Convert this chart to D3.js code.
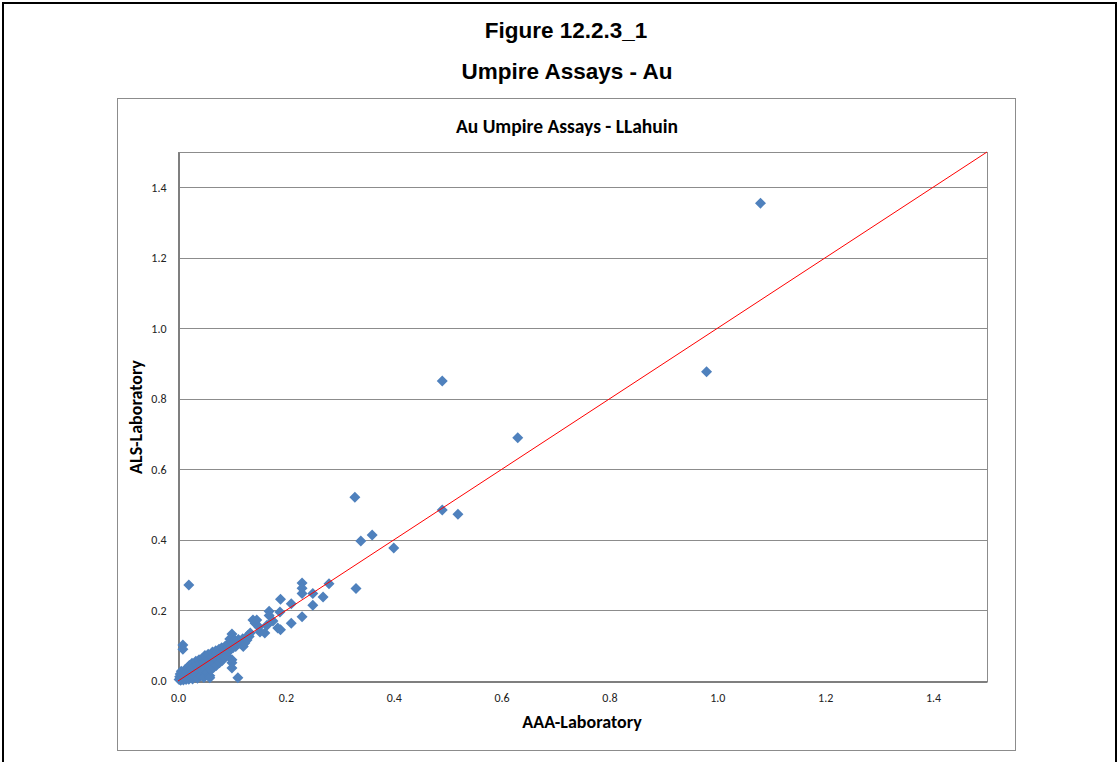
<!DOCTYPE html>
<html>
<head>
<meta charset="utf-8">
<script src="https://cdn.jsdelivr.net/npm/d3@7"></script>
<style>
  html, body { margin: 0; padding: 0; background: #fff; }
  svg { display: block; }
</style>
</head>
<body>
<script>
// Umpire assay pairs, Au (g/t): [AAA-Laboratory, ALS-Laboratory]
const lowGrade = [
  [0.002,0.004],[0.003,0.012],[0.004,0.020],[0.005,0.002],[0.006,0.028],[0.007,0.008],
  [0.008,0.016],[0.009,0.102],[0.009,0.090],[0.010,0.003],[0.010,0.024],[0.012,0.010],
  [0.013,0.032],[0.014,0.018],[0.015,0.004],[0.016,0.026],[0.018,0.038],[0.018,0.010],
  [0.020,0.020],[0.020,0.005],[0.021,0.044],[0.022,0.030],[0.024,0.014],[0.025,0.036],
  [0.026,0.050],[0.027,0.006],[0.028,0.024],[0.030,0.042],[0.030,0.012],[0.032,0.032],
  [0.033,0.056],[0.034,0.020],[0.035,0.046],[0.036,0.008],[0.038,0.036],[0.039,0.060],
  [0.040,0.026],[0.041,0.050],[0.042,0.014],[0.044,0.040],[0.045,0.064],[0.046,0.030],
  [0.047,0.054],[0.048,0.010],[0.050,0.044],[0.050,0.072],[0.051,0.034],[0.052,0.058],
  [0.054,0.024],[0.055,0.048],[0.056,0.076],[0.057,0.040],[0.058,0.062],[0.059,0.015],
  [0.059,0.009],[0.060,0.052],[0.061,0.032],[0.062,0.070],[0.063,0.044],[0.064,0.082],
  [0.065,0.058],[0.066,0.038],[0.067,0.074],[0.068,0.050],[0.070,0.064],[0.070,0.086],
  [0.071,0.044],[0.072,0.078],[0.074,0.058],[0.075,0.070],[0.076,0.090],[0.077,0.052],
  [0.078,0.082],[0.080,0.066],[0.081,0.094],[0.082,0.058],[0.083,0.076],[0.085,0.088],
  [0.086,0.068],[0.087,0.098],[0.088,0.080],[0.090,0.072],[0.090,0.092],[0.092,0.104],
  [0.093,0.096],[0.094,0.084],[0.095,0.108],[0.096,0.119],[0.097,0.090],[0.098,0.100],
  [0.100,0.133],[0.100,0.112],[0.100,0.060],[0.100,0.052],[0.100,0.037],[0.102,0.094],
  [0.104,0.106],[0.105,0.116],[0.107,0.098],[0.108,0.110],[0.110,0.104],[0.111,0.009],
  [0.112,0.118],[0.114,0.108],[0.116,0.112],[0.118,0.104],[0.120,0.120],[0.121,0.098],
  [0.124,0.108],[0.126,0.122],[0.128,0.116],[0.130,0.130],[0.132,0.126],[0.134,0.136]
];
const midGrade = [
  [0.020,0.272],[0.139,0.173],[0.143,0.164],[0.146,0.173],[0.150,0.153],[0.152,0.139],
  [0.161,0.136],[0.165,0.158],[0.169,0.198],[0.169,0.186],[0.176,0.170],[0.185,0.150],
  [0.189,0.196],[0.190,0.232],[0.190,0.145],[0.210,0.219],[0.210,0.164],[0.230,0.278],
  [0.230,0.263],[0.230,0.248],[0.230,0.182],[0.250,0.248],[0.250,0.215],[0.269,0.238],
  [0.280,0.276],[0.330,0.262]
];
const highGrade = [
  [0.328,0.521],[0.339,0.397],[0.360,0.414],[0.400,0.377],[0.490,0.851],[0.490,0.485],
  [0.519,0.473],[0.630,0.690],[0.980,0.877],[1.080,1.355]
];
const assays = lowGrade.concat(midGrade, highGrade);

const axisMax = 1.5;
const tickValues = [0, 0.2, 0.4, 0.6, 0.8, 1.0, 1.2, 1.4];
const parityLine = [[0, 0], [1.5, 1.5]];

const W = 1118, H = 762;
const svg = d3.select("body").append("svg").attr("width", W).attr("height", H);

// Page frame
svg.append("path")
  .attr("d", `M3,${H} V3 H1116 V${H}`)
  .attr("fill", "none").attr("stroke", "#000").attr("stroke-width", 2);

const headFont = "'Liberation Sans', Arial, sans-serif";
const chartFont = "Carlito, Calibri, Lato, 'Open Sans', sans-serif";

svg.append("text").attr("x", 566).attr("y", 38).attr("text-anchor", "middle")
  .attr("font-family", headFont).attr("font-weight", "bold").attr("font-size", 22.5)
  .text("Figure 12.2.3_1");
svg.append("text").attr("x", 567).attr("y", 79).attr("text-anchor", "middle")
  .attr("font-family", headFont).attr("font-weight", "bold").attr("font-size", 22.5)
  .text("Umpire Assays - Au");

// Chart box
svg.append("rect").attr("x", 117.5).attr("y", 98.5).attr("width", 898).attr("height", 652)
  .attr("fill", "#fff").attr("stroke", "#8c8c8c").attr("stroke-width", 1);

svg.append("text").attr("x", 567).attr("y", 133).attr("text-anchor", "middle")
  .attr("font-family", chartFont).attr("font-weight", "bold").attr("font-size", 19.5)
  .text("Au Umpire Assays - LLahuin");

const plot = { left: 178, right: 987, top: 152, bottom: 681 };
const x = d3.scaleLinear().domain([0, axisMax]).range([plot.left, plot.right]);
const y = d3.scaleLinear().domain([0, axisMax]).range([plot.bottom, plot.top]);

// Horizontal gridlines
svg.append("g").selectAll("line").data(tickValues.filter(d => d > 0)).join("line")
  .attr("x1", plot.left).attr("x2", plot.right)
  .attr("y1", d => Math.round(y(d)) + 0.5).attr("y2", d => Math.round(y(d)) + 0.5)
  .attr("stroke", "#8c8c8c").attr("stroke-width", 1);

// Plot area frame
svg.append("rect").attr("x", plot.left + 0.5).attr("y", plot.top + 0.5)
  .attr("width", plot.right - plot.left).attr("height", plot.bottom - plot.top)
  .attr("fill", "none").attr("stroke", "#8c8c8c").attr("stroke-width", 1);

const fmt = d3.format(".1f");
const xAxis = svg.append("g").attr("transform", `translate(0,${plot.bottom + 0.5})`)
  .call(d3.axisBottom(x).tickValues(tickValues).tickFormat(fmt).tickSize(0).tickPadding(12));
const yAxis = svg.append("g").attr("transform", `translate(${plot.left + 0.5},0)`)
  .call(d3.axisLeft(y).tickValues(tickValues).tickFormat(fmt).tickSize(0).tickPadding(12));
[xAxis, yAxis].forEach(g => {
  g.select(".domain").attr("stroke", "#7f7f7f").attr("stroke-width", 2);
  g.selectAll("text").attr("font-family", chartFont).attr("font-size", 12).attr("fill", "#222");
});

// Assay points
const diamond = "M0,-5.5L5.5,0L0,5.5L-5.5,0Z";
svg.append("g").selectAll("path").data(assays).join("path")
  .attr("d", diamond)
  .attr("transform", d => `translate(${x(d[0])},${y(d[1])})`)
  .attr("fill", "#4f81bd");

// 1:1 line
svg.append("path").datum(parityLine)
  .attr("d", d3.line().x(d => x(d[0])).y(d => y(d[1])))
  .attr("stroke", "#ff0000").attr("stroke-width", 1).attr("fill", "none");

svg.append("text").attr("x", 582).attr("y", 728).attr("text-anchor", "middle")
  .attr("font-family", chartFont).attr("font-weight", "bold").attr("font-size", 18)
  .text("AAA-Laboratory");
svg.append("text").attr("transform", "translate(142,417) rotate(-90)").attr("text-anchor", "middle")
  .attr("font-family", chartFont).attr("font-weight", "bold").attr("font-size", 18)
  .text("ALS-Laboratory");
</script>
</body>
</html>
